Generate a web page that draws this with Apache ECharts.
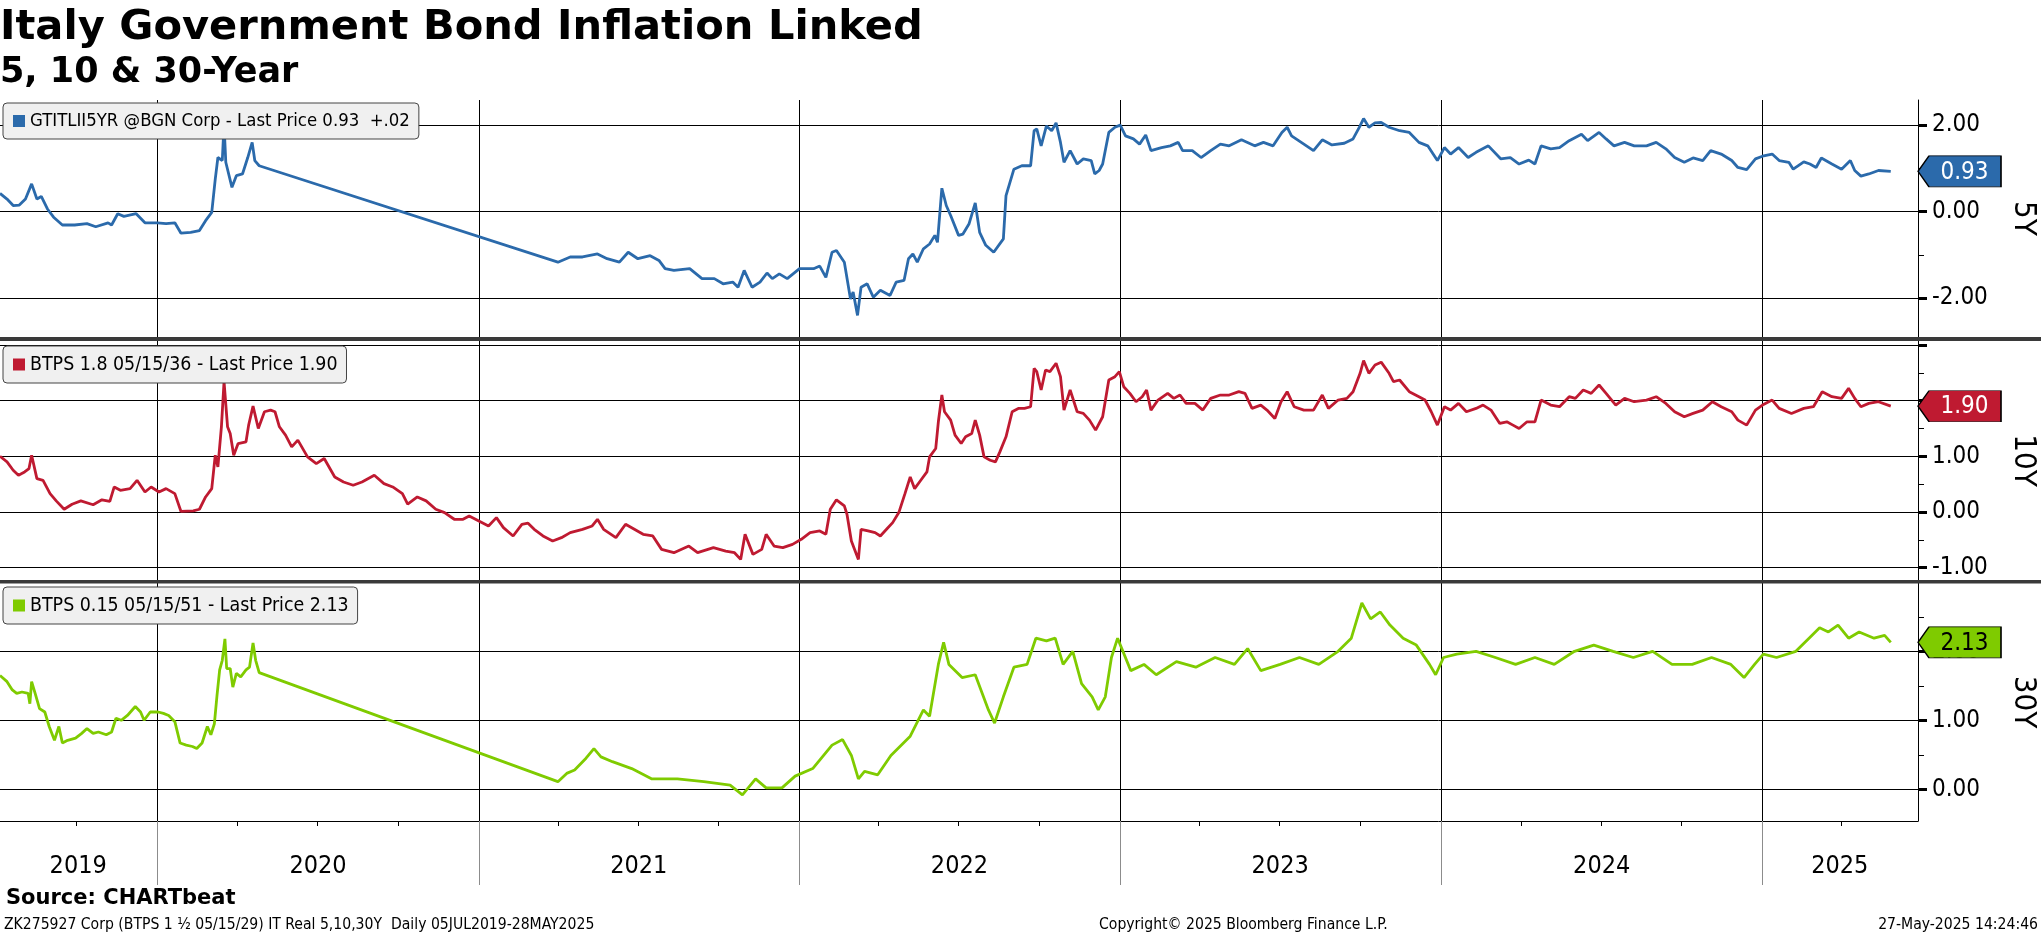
<!DOCTYPE html>
<html>
<head>
<meta charset="utf-8">
<script src="https://cdn.jsdelivr.net/npm/echarts@6/dist/echarts.min.js"></script>
<style>
html,body{margin:0;padding:0;background:#fff;}
#chart{width:2041px;height:936px;}
</style>
</head>
<body>
<div id="chart"></div>
<script>
// ---------------- DATA ----------------
const dates5y = ['2019-07-06','2019-07-14','2019-07-21','2019-07-28','2019-08-04','2019-08-11','2019-08-17','2019-08-22','2019-08-29','2019-09-05','2019-09-15','2019-09-29','2019-10-13','2019-10-23','2019-11-06','2019-11-10','2019-11-17','2019-11-24','2019-12-08','2019-12-18',
'2020-01-01','2020-01-11','2020-01-21','2020-01-28','2020-02-08','2020-02-18','2020-02-25','2020-03-03','2020-03-07','2020-03-10','2020-03-15','2020-03-17','2020-03-19','2020-03-26','2020-03-31','2020-04-07','2020-04-13','2020-04-18','2020-04-21','2020-04-26',
'2021-04-01','2021-04-15','2021-04-29','2021-05-16','2021-05-27','2021-06-10','2021-06-20','2021-07-01','2021-07-15','2021-07-25','2021-08-01','2021-08-11','2021-08-29','2021-09-12','2021-09-26','2021-10-06','2021-10-17','2021-10-23','2021-10-30','2021-11-08','2021-11-17','2021-11-25','2021-12-01','2021-12-09','2021-12-18',
'2022-01-01','2022-01-17','2022-01-24','2022-01-31','2022-02-07','2022-02-12','2022-02-21','2022-02-28','2022-03-03','2022-03-08','2022-03-12','2022-03-19','2022-03-26','2022-04-03','2022-04-14','2022-04-21','2022-04-30','2022-05-05','2022-05-10','2022-05-15','2022-05-22','2022-05-29','2022-06-04','2022-06-07','2022-06-12','2022-06-17','2022-06-22','2022-07-01','2022-07-06','2022-07-13','2022-07-20','2022-07-25','2022-08-01','2022-08-10','2022-08-21','2022-08-24','2022-08-28','2022-09-02','2022-09-11','2022-09-21','2022-09-25','2022-09-28','2022-10-03','2022-10-09','2022-10-15','2022-10-20','2022-10-25','2022-10-29','2022-11-05','2022-11-13','2022-11-20','2022-11-29','2022-12-03','2022-12-08','2022-12-12','2022-12-19','2022-12-26',
'2023-01-01','2023-01-07','2023-01-16','2023-01-23','2023-01-30','2023-02-05','2023-02-17','2023-02-27','2023-03-08','2023-03-13','2023-03-24','2023-04-03','2023-04-14','2023-04-25','2023-05-05','2023-05-19','2023-06-03','2023-06-13','2023-06-24','2023-07-04','2023-07-10','2023-07-15','2023-07-29','2023-08-09','2023-08-19','2023-08-30','2023-09-13','2023-09-23','2023-10-01','2023-10-05','2023-10-11','2023-10-18','2023-10-25','2023-11-03','2023-11-15','2023-11-26','2023-12-07','2023-12-17','2023-12-28',
'2024-01-05','2024-01-12','2024-01-21','2024-02-01','2024-02-10','2024-02-24','2024-03-09','2024-03-20','2024-03-30','2024-04-10','2024-04-17','2024-04-24','2024-05-05','2024-05-15','2024-05-26','2024-06-09','2024-06-16','2024-06-29','2024-07-07','2024-07-16','2024-07-28','2024-08-08','2024-08-22','2024-09-02','2024-09-13','2024-09-23','2024-10-04','2024-10-14','2024-10-25','2024-11-03','2024-11-15','2024-11-27','2024-12-04','2024-12-14','2024-12-24',
'2025-01-01','2025-01-12','2025-01-20','2025-01-31','2025-02-05','2025-02-17','2025-02-24','2025-03-03','2025-03-09','2025-03-21','2025-04-01','2025-04-11','2025-04-16','2025-04-23','2025-05-02','2025-05-13','2025-05-27'];
const yld5y = [0.42,0.29,0.14,0.15,0.29,0.64,0.29,0.35,0.06,-0.13,-0.31,-0.31,-0.28,-0.35,-0.26,-0.31,-0.05,-0.11,-0.05,-0.26,
-0.26,-0.28,-0.26,-0.50,-0.48,-0.44,-0.21,-0.02,0.75,1.25,1.18,2.02,1.14,0.56,0.83,0.87,1.25,1.60,1.18,1.06,
-1.17,-1.05,-1.05,-0.98,-1.09,-1.17,-0.94,-1.09,-1.02,-1.13,-1.32,-1.36,-1.32,-1.55,-1.55,-1.67,-1.63,-1.75,-1.36,-1.75,-1.63,-1.42,-1.55,-1.44,-1.55,
-1.32,-1.32,-1.26,-1.52,-0.94,-0.90,-1.17,-2.02,-1.86,-2.40,-1.75,-1.67,-1.98,-1.82,-1.94,-1.63,-1.59,-1.09,-0.98,-1.17,-0.86,-0.75,-0.55,-0.71,0.54,0.14,-0.09,-0.55,-0.52,-0.28,0.20,-0.48,-0.78,-0.94,-0.63,0.37,0.64,0.98,1.06,1.06,1.87,1.91,1.52,1.98,1.87,2.05,1.60,1.14,1.41,1.10,1.22,1.18,0.87,0.95,1.10,1.83,1.95,
2.00,1.75,1.68,1.56,1.77,1.41,1.48,1.52,1.60,1.41,1.41,1.25,1.41,1.56,1.52,1.66,1.52,1.60,1.52,1.83,1.95,1.75,1.56,1.41,1.66,1.54,1.58,1.68,1.98,2.15,1.95,2.05,2.06,1.95,1.87,1.83,1.60,1.52,1.18,
1.48,1.33,1.48,1.25,1.37,1.52,1.22,1.25,1.10,1.19,1.10,1.52,1.45,1.48,1.64,1.79,1.64,1.83,1.68,1.52,1.60,1.52,1.52,1.60,1.45,1.25,1.14,1.24,1.18,1.41,1.33,1.18,1.02,0.97,1.22,
1.28,1.33,1.18,1.14,0.98,1.15,1.10,1.02,1.24,1.10,0.98,1.18,0.95,0.82,0.87,0.95,0.93];

const dates10y = ['2019-07-06','2019-07-14','2019-07-21','2019-07-27','2019-08-03','2019-08-08','2019-08-11','2019-08-17','2019-08-24','2019-09-01','2019-09-08','2019-09-17','2019-09-26','2019-10-06','2019-10-20','2019-10-30','2019-11-08','2019-11-13','2019-11-20','2019-12-01','2019-12-09','2019-12-18','2019-12-25',
'2020-01-03','2020-01-11','2020-01-21','2020-01-28','2020-02-11','2020-02-18','2020-02-25','2020-03-03','2020-03-07','2020-03-10','2020-03-14','2020-03-17','2020-03-21','2020-03-24','2020-03-28','2020-04-02','2020-04-11','2020-04-14','2020-04-19','2020-04-25','2020-05-02','2020-05-09','2020-05-14','2020-05-19','2020-05-26','2020-06-02','2020-06-09','2020-06-20','2020-06-30','2020-07-09','2020-07-21','2020-07-31','2020-08-11','2020-08-21','2020-09-04','2020-09-15','2020-09-25','2020-10-06','2020-10-12','2020-10-23','2020-11-02','2020-11-13','2020-11-23','2020-12-04','2020-12-14','2020-12-21',
'2021-01-01','2021-01-12','2021-01-21','2021-01-29','2021-02-09','2021-02-19','2021-02-26','2021-03-05','2021-03-15','2021-03-26','2021-04-05','2021-04-15','2021-04-29','2021-05-10','2021-05-16','2021-05-23','2021-06-06','2021-06-17','2021-06-27','2021-07-07','2021-07-18','2021-07-28','2021-08-11','2021-08-28','2021-09-07','2021-09-25','2021-10-09','2021-10-19','2021-10-26','2021-10-31','2021-11-09','2021-11-19','2021-11-24','2021-12-03','2021-12-13','2021-12-24',
'2022-01-03','2022-01-13','2022-01-24','2022-01-31','2022-02-05','2022-02-12','2022-02-21','2022-02-24','2022-03-01','2022-03-09','2022-03-12','2022-03-20','2022-03-28','2022-04-03','2022-04-10','2022-04-17','2022-04-24','2022-05-01','2022-05-07','2022-05-12','2022-05-19','2022-05-26','2022-05-29','2022-06-05','2022-06-08','2022-06-12','2022-06-15','2022-06-22','2022-06-27','2022-07-04','2022-07-09','2022-07-16','2022-07-20','2022-07-25','2022-07-30','2022-08-06','2022-08-12','2022-08-17','2022-08-24','2022-08-31','2022-09-07','2022-09-14','2022-09-21','2022-09-25','2022-09-28','2022-10-03','2022-10-08','2022-10-13','2022-10-20','2022-10-25','2022-10-29','2022-11-05','2022-11-13','2022-11-20','2022-11-27','2022-12-04','2022-12-12','2022-12-19','2022-12-26','2022-12-31',
'2023-01-05','2023-01-12','2023-01-19','2023-01-26','2023-01-31','2023-02-05','2023-02-13','2023-02-24','2023-03-03','2023-03-10','2023-03-17','2023-03-27','2023-04-05','2023-04-14','2023-04-25','2023-05-05','2023-05-16','2023-05-23','2023-05-31','2023-06-10','2023-06-17','2023-06-26','2023-07-03','2023-07-10','2023-07-18','2023-07-29','2023-08-09','2023-08-19','2023-08-26','2023-09-06','2023-09-16','2023-09-23','2023-10-01','2023-10-05','2023-10-11','2023-10-18','2023-10-25','2023-11-03','2023-11-08','2023-11-15','2023-11-26','2023-12-07','2023-12-14','2023-12-21','2023-12-28',
'2024-01-05','2024-01-12','2024-01-21','2024-01-30','2024-02-10','2024-02-18','2024-02-27','2024-03-08','2024-03-16','2024-03-23','2024-03-30','2024-04-08','2024-04-17','2024-04-24','2024-05-05','2024-05-15','2024-05-26','2024-06-02','2024-06-11','2024-06-20','2024-06-29','2024-07-07','2024-07-18','2024-07-28','2024-08-08','2024-08-22','2024-09-02','2024-09-13','2024-09-23','2024-10-04','2024-10-14','2024-10-25','2024-11-05','2024-11-15','2024-11-27','2024-12-04','2024-12-14','2024-12-24',
'2025-01-01','2025-01-12','2025-01-20','2025-02-03','2025-02-17','2025-02-28','2025-03-10','2025-03-21','2025-04-01','2025-04-09','2025-04-16','2025-04-23','2025-05-02','2025-05-13','2025-05-27'];
const yld10y = [1.00,0.90,0.75,0.66,0.72,0.78,1.02,0.60,0.57,0.33,0.20,0.05,0.14,0.20,0.13,0.22,0.19,0.45,0.39,0.42,0.57,0.36,0.45,
0.36,0.42,0.33,0.01,0.02,0.05,0.27,0.42,1.02,0.81,1.53,2.34,1.53,1.41,1.02,1.23,1.26,1.56,1.90,1.50,1.80,1.83,1.80,1.53,1.38,1.17,1.29,0.99,0.87,0.96,0.63,0.54,0.48,0.54,0.66,0.51,0.45,0.33,0.14,0.27,0.20,0.05,-0.01,-0.13,-0.13,-0.07,
-0.16,-0.25,-0.10,-0.28,-0.43,-0.22,-0.20,-0.31,-0.43,-0.52,-0.46,-0.37,-0.31,-0.25,-0.13,-0.31,-0.46,-0.22,-0.31,-0.40,-0.43,-0.67,-0.73,-0.61,-0.73,-0.64,-0.70,-0.73,-0.85,-0.40,-0.76,-0.67,-0.40,-0.61,-0.64,-0.58,
-0.49,-0.37,-0.34,-0.40,0.05,0.22,0.11,-0.04,-0.52,-0.85,-0.31,-0.34,-0.37,-0.43,-0.31,-0.19,-0.01,0.33,0.63,0.42,0.57,0.72,0.99,1.14,1.62,2.10,1.80,1.65,1.38,1.23,1.35,1.41,1.65,1.38,0.99,0.93,0.90,1.08,1.35,1.80,1.86,1.86,1.89,2.58,2.52,2.19,2.55,2.52,2.67,2.43,1.83,2.19,1.80,1.77,1.65,1.47,1.71,2.37,2.43,2.52,
2.25,2.13,1.98,2.07,2.19,1.83,2.01,2.13,2.04,2.10,1.95,1.95,1.83,2.04,2.10,2.10,2.16,2.13,1.86,1.92,1.83,1.68,1.98,2.16,1.89,1.83,1.83,2.10,1.86,2.01,2.04,2.16,2.49,2.72,2.49,2.64,2.69,2.49,2.34,2.37,2.16,2.07,2.01,1.80,1.56,
1.89,1.83,1.95,1.80,1.86,1.92,1.83,1.59,1.62,1.56,1.50,1.62,1.62,2.01,1.92,1.89,2.07,2.04,2.19,2.13,2.28,2.13,1.92,2.04,1.98,2.01,2.07,1.95,1.80,1.71,1.77,1.83,1.98,1.89,1.80,1.65,1.56,1.83,
1.92,2.01,1.86,1.77,1.86,1.89,2.16,2.07,2.04,2.22,2.04,1.89,1.95,1.98,1.90];

const dates30y = ['2019-07-06','2019-07-14','2019-07-20','2019-07-25','2019-07-31','2019-08-07','2019-08-09','2019-08-11','2019-08-15','2019-08-20','2019-08-26','2019-08-31','2019-09-06','2019-09-11','2019-09-15','2019-09-21','2019-09-30','2019-10-07','2019-10-13','2019-10-20','2019-10-26','2019-11-04','2019-11-10','2019-11-15','2019-11-21','2019-11-28','2019-12-07','2019-12-13','2019-12-17','2019-12-24',
'2020-01-02','2020-01-08','2020-01-14','2020-01-21','2020-01-27','2020-02-03','2020-02-10','2020-02-15','2020-02-21','2020-02-27','2020-03-02','2020-03-06','2020-03-09','2020-03-12','2020-03-15','2020-03-18','2020-03-20','2020-03-24','2020-03-27','2020-03-31','2020-04-05','2020-04-11','2020-04-15','2020-04-19','2020-04-22','2020-04-26',
'2021-04-01','2021-04-11','2021-04-20','2021-05-03','2021-05-12','2021-05-20','2021-06-02','2021-06-24','2021-07-17','2021-08-15','2021-09-14','2021-10-14','2021-10-28','2021-11-12','2021-11-24','2021-12-12','2021-12-27',
'2022-01-16','2022-02-07','2022-02-19','2022-03-01','2022-03-09','2022-03-16','2022-03-31','2022-04-15','2022-05-07','2022-05-22','2022-05-29','2022-06-08','2022-06-14','2022-06-20','2022-07-05','2022-07-20','2022-08-04','2022-08-11','2022-08-21','2022-09-02','2022-09-17','2022-09-27','2022-10-09','2022-10-19','2022-10-28','2022-11-08','2022-11-18','2022-11-30','2022-12-07','2022-12-15','2022-12-22','2022-12-29',
'2023-01-13','2023-01-28','2023-02-11','2023-03-06','2023-03-28','2023-04-19','2023-05-11','2023-05-26','2023-06-10','2023-07-02','2023-07-24','2023-08-15','2023-09-06','2023-09-21','2023-10-03','2023-10-13','2023-10-24','2023-11-04','2023-11-19','2023-12-04','2023-12-19','2023-12-26',
'2024-01-04','2024-01-19','2024-02-10','2024-03-03','2024-03-26','2024-04-17','2024-05-09','2024-06-01','2024-06-23','2024-07-15','2024-08-07','2024-08-29','2024-09-20','2024-10-13','2024-11-04','2024-11-26','2024-12-11','2024-12-23',
'2025-01-02','2025-01-17','2025-02-08','2025-02-23','2025-03-07','2025-03-17','2025-03-28','2025-04-09','2025-04-21','2025-05-08','2025-05-20','2025-05-27'];
const yld30y = [1.65,1.56,1.44,1.39,1.41,1.39,1.24,1.56,1.39,1.17,1.12,0.91,0.71,0.91,0.67,0.71,0.74,0.81,0.88,0.81,0.83,0.79,0.83,1.03,1.00,1.07,1.20,1.12,1.00,1.12,
1.12,1.10,1.07,0.98,0.67,0.64,0.62,0.59,0.67,0.91,0.79,0.95,1.36,1.73,1.87,2.18,1.75,1.75,1.48,1.68,1.63,1.73,1.77,2.12,1.87,1.69,
0.11,0.23,0.28,0.45,0.59,0.47,0.40,0.30,0.15,0.15,0.11,0.06,-0.08,0.15,0.02,0.02,0.19,
0.30,0.64,0.72,0.49,0.15,0.26,0.21,0.49,0.77,1.15,1.06,1.81,2.13,1.81,1.62,1.66,1.15,0.96,1.34,1.77,1.81,2.19,2.15,2.19,1.81,2.00,1.53,1.34,1.15,1.34,1.91,2.19,
1.72,1.81,1.66,1.85,1.77,1.91,1.81,2.04,1.72,1.81,1.91,1.81,2.00,2.19,2.70,2.47,2.57,2.38,2.19,2.09,1.81,1.66,
1.91,1.96,2.00,1.91,1.81,1.91,1.81,2.00,2.09,2.00,1.91,2.00,1.81,1.81,1.91,1.81,1.62,1.81,
1.96,1.91,2.00,2.19,2.34,2.28,2.38,2.19,2.28,2.19,2.23,2.13];

// axis ticks / labels
const X_MIN = '2019-07-06';
const X_MAX = '2025-06-27';
const yearStarts = ['2020-01-01','2021-01-01','2022-01-01','2023-01-01','2024-01-01','2025-01-01'];
const quarterStarts = ['2019-10-01','2020-01-01','2020-04-01','2020-07-01','2020-10-01','2021-01-01','2021-04-01','2021-07-01','2021-10-01','2022-01-01','2022-04-01','2022-07-01','2022-10-01','2023-01-01','2023-04-01','2023-07-01','2023-10-01','2024-01-01','2024-04-01','2024-07-01','2024-10-01','2025-01-01','2025-04-01'];
const yearLabelAt = ['2019-10-03','2020-07-02','2021-07-02','2022-07-02','2023-07-02','2024-07-02','2025-03-30'];

const y5Range = [-2.9, 2.58], y5Labels = [-2, 0, 2], y5Major = [-2, 0, 2], y5Minor = [-1, 1];
const y10Range = [-1.22, 3.07], y10Labels = [-1, 0, 1], y10Major = [-1, 0, 1, 2, 3], y10Minor = [-0.5, 0.5, 1.5, 2.5];
const y30Range = [-0.46, 2.99], y30Labels = [0, 1, 2], y30Major = [0, 1, 2], y30Minor = [0.5, 1.5, 2.5];

const legend5Text = 'GTITLII5YR @BGN Corp - Last Price 0.93  +.02';
const legend10Text = 'BTPS 1.8 05/15/36 - Last Price 1.90';
const legend30Text = 'BTPS 0.15 05/15/51 - Last Price 2.13';

// ---------------- STYLE ----------------
const FONT = '"DejaVu Sans Condensed", "DejaVu Sans", sans-serif';
const BLUE = '#2b6aab', RED = '#bf1a31', GREEN = '#7fcb00';

// date string -> UTC timestamp (a value axis is used for the dates)
const ts = s => Date.parse(s + 'T00:00:00Z');
function zip(d, v) { return d.map((x, i) => [ts(x), v[i]]); }
const XMIN = ts(X_MIN), XMAX = ts(X_MAX);

function xAxisHidden(gi) {
  return {
    type: 'value', gridIndex: gi, min: XMIN, max: XMAX,
    axisLine: { show: false, onZero: false },
    axisTick: { show: false, customValues: yearStarts.map(ts) },
    axisLabel: { show: false },
    splitLine: { show: true, lineStyle: { color: '#000', width: 1 } }
  };
}
function yMain(gi, range, labels, major, name) {
  return {
    type: 'value', gridIndex: gi, position: 'right', min: range[0], max: range[1],
    axisLine: { show: true, onZero: false, lineStyle: { color: '#000', width: 1 } },
    axisTick: { show: true, customValues: major, length: 9, lineStyle: { color: '#000', width: 3 } },
    axisLabel: { show: true, customValues: labels, margin: 14, color: '#000', fontSize: 24, fontFamily: FONT,
      formatter: v => Number(v).toFixed(2) },
    splitLine: { show: true, lineStyle: { color: '#000', width: 1 } },
    name: name, nameLocation: 'middle', nameRotate: -90, nameGap: 90,
    nameTextStyle: { fontSize: 31, fontFamily: FONT, color: '#000' }
  };
}
function yMinor(gi, range, minor) {
  return {
    type: 'value', gridIndex: gi, position: 'right', min: range[0], max: range[1],
    axisLine: { show: false },
    axisTick: { show: true, customValues: minor, length: 6, lineStyle: { color: '#000', width: 1 } },
    axisLabel: { show: false },
    splitLine: { show: false }
  };
}
function badge(color, textColor, value) {
  return {
    symbol: 'path://M0,15.5 L11,0 L83,0 L83,31 L11,31 Z',
    symbolSize: [83, 31],
    symbolOffset: [41.5, 0],
    symbolKeepAspect: false,
    itemStyle: { color: color, borderColor: '#000', borderWidth: 1 },
    label: { show: true, position: 'inside', offset: [5, 1], color: textColor, fontSize: 24, fontFamily: FONT,
      formatter: () => value.toFixed(2) },
    data: [{ coord: [XMAX, value] }],
    silent: true
  };
}
function legendBox(name, top, text, size) {
  return {
    data: [name], left: 3, top: top, orient: 'horizontal', icon: 'rect',
    itemWidth: 12, itemHeight: 12, selectedMode: false,
    formatter: () => text,
    textStyle: { fontSize: size, fontFamily: FONT, color: '#000' },
    backgroundColor: '#f0f0f0', borderColor: '#444', borderWidth: 1, borderRadius: 4,
    padding: [9, 9, 9, 10]
  };
}

const chart = echarts.init(document.getElementById('chart'), null, { renderer: 'canvas' });
const option = {
  backgroundColor: '#fff',
  animation: false,
  grid: [
    { left: 0, right: 123, top: 100, height: 237, outerBoundsMode: 'none' },
    { left: 0, right: 123, top: 341, height: 239, outerBoundsMode: 'none' },
    { left: 0, right: 123, top: 583, height: 238, outerBoundsMode: 'none' }
  ],
  xAxis: [
    xAxisHidden(0),
    xAxisHidden(1),
    {
      type: 'value', gridIndex: 2, min: XMIN, max: XMAX, position: 'bottom',
      axisLine: { show: true, onZero: false, lineStyle: { color: '#000', width: 1 } },
      axisTick: { show: true, customValues: quarterStarts.map(ts), length: 5, lineStyle: { color: '#000', width: 1 } },
      axisLabel: { show: true, customValues: yearLabelAt.map(ts), margin: 33, color: '#000', fontSize: 25, fontFamily: FONT,
        formatter: v => String(new Date(v).getUTCFullYear()) },
      splitLine: { show: false }
    },
    {
      type: 'value', gridIndex: 2, min: XMIN, max: XMAX, position: 'bottom',
      axisLine: { show: false, onZero: false },
      axisTick: { show: true, customValues: yearStarts.map(ts), length: 64, lineStyle: { color: '#8c8c8c', width: 1 } },
      axisLabel: { show: false },
      splitLine: { show: true, lineStyle: { color: '#000', width: 1 } }
    }
  ],
  yAxis: [
    yMain(0, y5Range, y5Labels, y5Major, '5Y'),
    yMinor(0, y5Range, y5Minor),
    yMain(1, y10Range, y10Labels, y10Major, '10Y'),
    yMinor(1, y10Range, y10Minor),
    yMain(2, y30Range, y30Labels, y30Major, '30Y'),
    yMinor(2, y30Range, y30Minor)
  ],
  legend: [
    legendBox('5Y', 103, legend5Text, 18.4),
    legendBox('10Y', 346, legend10Text, 19.4),
    legendBox('30Y', 587, legend30Text, 19.4)
  ],
  series: [
    { name: '5Y', type: 'line', xAxisIndex: 0, yAxisIndex: 0, data: zip(dates5y, yld5y),
      showSymbol: false, symbol: 'none', lineStyle: { width: 2.8, color: BLUE }, itemStyle: { color: BLUE },
      z: 3, markPoint: badge(BLUE, '#fff', yld5y[yld5y.length - 1]) },
    { name: '10Y', type: 'line', xAxisIndex: 1, yAxisIndex: 2, data: zip(dates10y, yld10y),
      showSymbol: false, symbol: 'none', lineStyle: { width: 2.8, color: RED }, itemStyle: { color: RED },
      z: 3, markPoint: badge(RED, '#fff', yld10y[yld10y.length - 1]) },
    { name: '30Y', type: 'line', xAxisIndex: 2, yAxisIndex: 4, data: zip(dates30y, yld30y),
      showSymbol: false, symbol: 'none', lineStyle: { width: 2.8, color: GREEN }, itemStyle: { color: GREEN },
      z: 3, markPoint: badge(GREEN, '#000', yld30y[yld30y.length - 1]) }
  ],
  graphic: [
    { type: 'rect', shape: { x: 0, y: 337, width: 2041, height: 4 }, style: { fill: '#3a3a3a' }, z: 10, silent: true },
    { type: 'rect', shape: { x: 0, y: 580, width: 2041, height: 3.5 }, style: { fill: '#3a3a3a' }, z: 10, silent: true },
    { type: 'text', x: 0, y: 28.5, style: { text: 'Italy Government Bond Inflation Linked', font: 'bold 41.6px "DejaVu Sans"', fill: '#000', align: 'left', verticalAlign: 'middle' } },
    { type: 'text', x: 0, y: 73, style: { text: '5, 10 & 30-Year', font: 'bold 35px "DejaVu Sans"', fill: '#000', align: 'left', verticalAlign: 'middle' } },
    { type: 'text', x: 6, y: 899, style: { text: 'Source: CHARTbeat', font: 'bold 21px "DejaVu Sans"', fill: '#000', align: 'left', verticalAlign: 'middle' } },
    { type: 'text', x: 4, y: 925, style: { text: 'ZK275927 Corp (BTPS 1 \u00BD 05/15/29) IT Real 5,10,30Y  Daily 05JUL2019-28MAY2025', font: '15.6px ' + FONT, fill: '#000', align: 'left', verticalAlign: 'middle' } },
    { type: 'text', x: 1099, y: 925, style: { text: 'Copyright\u00A9 2025 Bloomberg Finance L.P.', font: '15.6px ' + FONT, fill: '#000', align: 'left', verticalAlign: 'middle' } },
    { type: 'text', x: 2038, y: 925, style: { text: '27-May-2025 14:24:46', font: '15.6px ' + FONT, fill: '#000', align: 'right', verticalAlign: 'middle' } }
  ]
};
chart.setOption(option);
</script>
</body>
</html>
